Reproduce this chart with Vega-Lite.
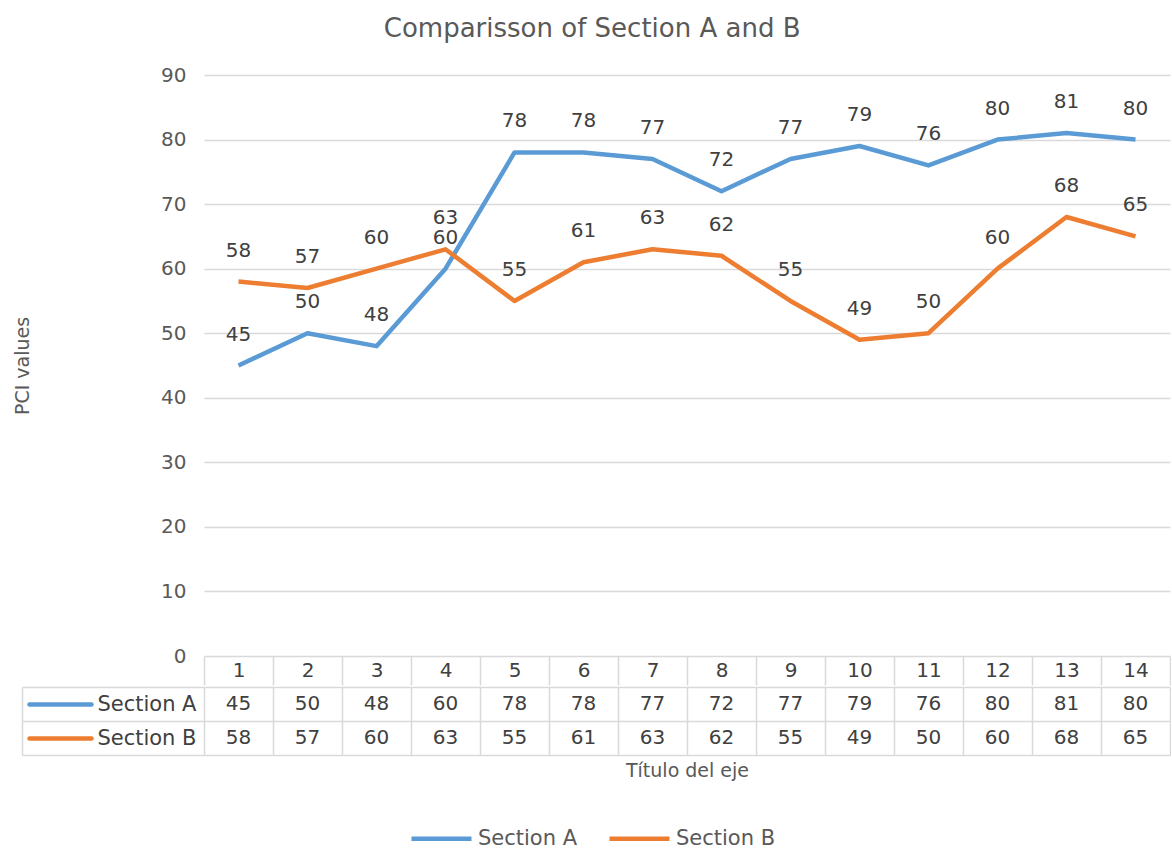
{
  "$schema": "https://vega.github.io/schema/vega-lite/v6.json",
  "autosize": {"type": "pad"},
  "padding": {"left": 13, "top": 16, "right": 0, "bottom": 0},
  "background": "white",
  "title": {"text": "Comparisson of Section A and B", "fontSize": 26, "font": "DejaVu Sans", "fontWeight": "normal", "color": "#595959", "anchor": "middle", "offset": 23},
  "config": {
    "font": "DejaVu Sans",
    "view": {"stroke": null},
    "axis": {"labelFont": "DejaVu Sans", "titleFont": "DejaVu Sans"}
  },
  "datasets": {
    "pci": [
      {"cat": 1, "series": "Section A", "value": 45},
      {"cat": 2, "series": "Section A", "value": 50},
      {"cat": 3, "series": "Section A", "value": 48},
      {"cat": 4, "series": "Section A", "value": 60},
      {"cat": 5, "series": "Section A", "value": 78},
      {"cat": 6, "series": "Section A", "value": 78},
      {"cat": 7, "series": "Section A", "value": 77},
      {"cat": 8, "series": "Section A", "value": 72},
      {"cat": 9, "series": "Section A", "value": 77},
      {"cat": 10, "series": "Section A", "value": 79},
      {"cat": 11, "series": "Section A", "value": 76},
      {"cat": 12, "series": "Section A", "value": 80},
      {"cat": 13, "series": "Section A", "value": 81},
      {"cat": 14, "series": "Section A", "value": 80},
      {"cat": 1, "series": "Section B", "value": 58},
      {"cat": 2, "series": "Section B", "value": 57},
      {"cat": 3, "series": "Section B", "value": 60},
      {"cat": 4, "series": "Section B", "value": 63},
      {"cat": 5, "series": "Section B", "value": 55},
      {"cat": 6, "series": "Section B", "value": 61},
      {"cat": 7, "series": "Section B", "value": 63},
      {"cat": 8, "series": "Section B", "value": 62},
      {"cat": 9, "series": "Section B", "value": 55},
      {"cat": 10, "series": "Section B", "value": 49},
      {"cat": 11, "series": "Section B", "value": 50},
      {"cat": 12, "series": "Section B", "value": 60},
      {"cat": 13, "series": "Section B", "value": 68},
      {"cat": 14, "series": "Section B", "value": 65}
    ]
  },
  "spacing": -10,
  "resolve": {"scale": {"color": "shared"}, "legend": {"color": "shared"}},
  "vconcat": [
    {
      "width": 966,
      "height": 581,
      "data": {"name": "pci"},
      "encoding": {
        "x": {
          "field": "cat", "type": "ordinal", "bandPosition": 0.5,
          "scale": {"type": "band", "paddingInner": 0, "paddingOuter": 0},
          "axis": {
            "orient": "bottom", "title": null, "domain": false, "grid": false,
            "tickBand": "extent", "tickSize": 29, "tickColor": "#d9d9d9", "tickWidth": 1.5,
            "labelAngle": 0, "labelFontSize": 20, "labelColor": "#404040",
            "labelPadding": -15, "labelBaseline": "middle"
          }
        },
        "y": {
          "field": "value", "type": "quantitative",
          "scale": {"domain": [0, 90], "nice": false},
          "axis": {
            "values": [0, 10, 20, 30, 40, 50, 60, 70, 80, 90],
            "grid": true, "gridColor": "#d9d9d9", "gridWidth": 1.5,
            "domain": false, "ticks": false,
            "labelFontSize": 20, "labelColor": "#595959", "labelPadding": 18,
            "title": "PCI values", "titleFontSize": 19, "titleFontWeight": "normal",
            "titleColor": "#595959", "titlePadding": 128
          }
        }
      },
      "layer": [
        {
          "mark": {"type": "line", "strokeWidth": 4.5, "strokeJoin": "round"},
          "encoding": {
            "color": {
              "field": "series", "type": "nominal",
              "scale": {"domain": ["Section A", "Section B"], "range": ["#5b9bd5", "#ed7d31"]},
              "legend": {
                "orient": "none", "legendX": 205, "legendY": 731,
                "direction": "horizontal", "title": null,
                "symbolType": "stroke", "symbolSize": 3600, "symbolStrokeWidth": 4.5,
                "labelFontSize": 21, "labelColor": "#595959", "labelOffset": 4,
                "columnPadding": 22
              }
            }
          }
        },
        {
          "mark": {"type": "text", "dy": -31, "fontSize": 20, "color": "#404040"},
          "encoding": {"text": {"field": "value", "type": "quantitative"}}
        }
      ]
    },
    {
      "width": 966,
      "height": 68,
      "data": {"name": "pci"},
      "resolve": {"axis": {"y": "independent"}},
      "layer": [
        {
          "mark": {"type": "text", "fontSize": 20, "color": "#404040", "baseline": "middle"},
          "encoding": {
            "x": {
              "field": "cat", "type": "ordinal",
              "scale": {"type": "band", "paddingInner": 0, "paddingOuter": 0},
              "axis": {
                "orient": "bottom", "labels": false, "ticks": false, "domain": false,
                "grid": true, "gridColor": "#d9d9d9", "gridWidth": 1.5, "tickBand": "extent",
                "title": "Título del eje", "titleFontSize": 19, "titleFontWeight": "normal",
                "titleColor": "#595959", "titlePadding": 6
              }
            },
            "y": {
              "field": "series", "type": "nominal",
              "scale": {"domain": ["Section A", "Section B"], "paddingInner": 0, "paddingOuter": 0},
              "axis": {
                "orient": "left", "title": null, "domain": false,
                "grid": true, "gridColor": "#d9d9d9", "gridWidth": 1.5, "tickBand": "extent",
                "ticks": true, "tickSize": 182, "tickColor": "#d9d9d9", "tickWidth": 1.5,
                "labelFontSize": 21, "labelColor": "#404040", "labelPadding": -174
              }
            },
            "text": {"field": "value", "type": "quantitative"}
          }
        },
        {
          "mark": {"type": "text", "opacity": 0},
          "encoding": {
            "y": {
              "field": "series", "type": "nominal",
              "scale": {"domain": ["Section A", "Section B"], "paddingInner": 0, "paddingOuter": 0},
              "axis": {
                "orient": "left", "title": null, "domain": false, "grid": false, "labels": false,
                "ticks": true, "tickSize": -62, "tickWidth": 4.5, "tickCap": "round",
                "tickColor": {"expr": "datum.value == 'Section A' ? '#5b9bd5' : '#ed7d31'"},
                "offset": 175
              }
            },
            "text": {"field": "series"}
          }
        },
        {
          "mark": {"type": "text", "opacity": 0},
          "encoding": {
            "y": {
              "field": "series", "type": "nominal",
              "scale": {"domain": ["Section A", "Section B"], "paddingInner": 0, "paddingOuter": 0},
              "axis": {
                "orient": "left", "title": null, "domain": true, "domainColor": "#d9d9d9", "domainWidth": 1.5,
                "grid": false, "labels": false, "ticks": false, "offset": 182
              }
            },
            "text": {"field": "series"}
          }
        }
      ]
    }
  ]
}
